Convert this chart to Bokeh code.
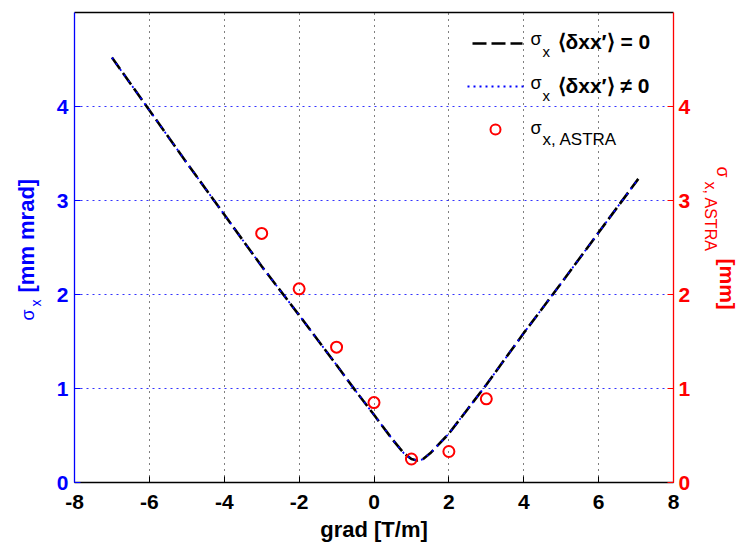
import math
from bokeh.plotting import figure
from bokeh.layouts import row
from bokeh.models import Range1d, LinearAxis, FixedTicker, Label
from bokeh.embed import file_html
from bokeh.resources import INLINE

# ---- data ----
grad = [-7.0, -6.0, -5.0, -4.0, -3.0, -2.0, -1.0, -0.5, 0.0, 0.5, 0.8, 1.0, 1.15,
        1.3, 1.5, 2.0, 2.5, 3.0, 4.0, 5.0, 6.0, 7.06]
sigma_corr_zero = [4.52, 3.96, 3.40, 2.85, 2.30, 1.78, 1.25, 0.98, 0.72, 0.455, 0.31,
                   0.25, 0.235, 0.245, 0.31, 0.52, 0.78, 1.04, 1.59, 2.12, 2.66, 3.23]
sigma_corr_nonzero = [4.52, 3.96, 3.40, 2.85, 2.30, 1.78, 1.25, 0.98, 0.72, 0.455, 0.31,
                      0.25, 0.235, 0.245, 0.31, 0.52, 0.78, 1.04, 1.59, 2.12, 2.66, 3.23]
astra_grad = [-3, -2, -1, 0, 1, 2, 3]
astra_sigma = [2.65, 2.06, 1.44, 0.85, 0.25, 0.33, 0.89]
x_ticks = [-8, -6, -4, -2, 0, 2, 4, 6, 8]
y_ticks = [0, 1, 2, 3, 4]

# ---- layout (pixels, whole page) ----
W, H = 738, 546
LSTRIP, RSTRIP = 46, 698          # left title strip [0,46], right title strip [698,738]
FL, FR, FT, FB = 74, 673, 12, 482 # plot frame
XMIN, XMAX, YMIN, YMAX = -8, 8, 0, 5

def dx(px):
    return XMIN + (px - FL) / (FR - FL) * (XMAX - XMIN)

def dy(py):
    return YMIN + (FB - py) / (FB - FT) * (YMAX - YMIN)

FONT = "Liberation Sans"
BLUE = "#0000ff"
RED = "#ff0000"

p = figure(width=RSTRIP - LSTRIP, height=H, x_range=Range1d(XMIN, XMAX),
           y_range=Range1d(YMIN, YMAX), output_backend="svg", toolbar_location=None,
           min_border_left=FL - LSTRIP, min_border_right=RSTRIP - FR,
           min_border_top=FT, min_border_bottom=H - FB)
p.extra_y_ranges = {"right": Range1d(YMIN, YMAX)}
p.outline_line_color = None
p.background_fill_color = "white"
p.border_fill_color = "white"

def style_axis(ax, color):
    ax.axis_line_color = color
    ax.axis_line_width = 1.3
    ax.major_tick_line_color = color
    ax.major_tick_in = 6
    ax.major_tick_out = 0
    ax.minor_tick_line_color = None
    ax.major_label_text_color = color
    ax.major_label_text_font = FONT
    ax.major_label_text_font_style = "bold"
    ax.major_label_text_font_size = "21px"

xa = p.xaxis[0]
xa.ticker = FixedTicker(ticks=x_ticks)
style_axis(xa, "black")
xa.major_label_overrides = {t: str(t) for t in x_ticks}
xa.major_label_standoff = 12
xa.axis_label = "grad [T/m]"
xa.axis_label_text_font = FONT
xa.axis_label_text_font_style = "bold"
xa.axis_label_text_font_size = "22px"
xa.axis_label_text_color = "black"
xa.axis_label_standoff = 5

ya = p.yaxis[0]
ya.ticker = FixedTicker(ticks=y_ticks)
style_axis(ya, BLUE)
ya.major_label_standoff = 6

ra = LinearAxis(y_range_name="right", ticker=FixedTicker(ticks=y_ticks))
style_axis(ra, RED)
ra.major_label_standoff = 5
p.add_layout(ra, "right")

ta = LinearAxis(ticker=FixedTicker(ticks=[]))
ta.axis_line_color = "black"
ta.axis_line_width = 1.3
ta.major_tick_line_color = None
ta.minor_tick_line_color = None
ta.major_label_text_font_size = "0px"
p.add_layout(ta, "above")

p.xgrid.ticker = FixedTicker(ticks=[-6, -4, -2, 0, 2, 4, 6])
p.xgrid.grid_line_color = "black"
p.xgrid.grid_line_dash = "1 5"
p.xgrid.grid_line_width = 1
p.ygrid.ticker = FixedTicker(ticks=[1, 2, 3, 4])
p.ygrid.grid_line_color = BLUE
p.ygrid.grid_line_alpha = 0.8
p.ygrid.grid_line_dash = "2 4"
p.ygrid.grid_line_width = 1

# ---- curves ----
p.line(grad, sigma_corr_zero, line_color="black", line_width=2.6, line_dash="14 5")
p.line(grad, sigma_corr_nonzero, line_color=BLUE, line_width=1.8, line_dash="2 5")
p.scatter(astra_grad, astra_sigma, marker="circle", size=11, fill_color=None,
          line_color=RED, line_width=2)

# ---- legend (hand-built) ----
p.line([dx(472), dx(522)], [dy(43), dy(43)], line_color="black", line_width=2.6,
       line_dash="14 5")
p.line([dx(467), dx(523)], [dy(86), dy(86)], line_color=BLUE, line_width=1.8,
       line_dash="2 4")
p.scatter([dx(495)], [dy(129)], marker="circle", size=10, fill_color=None,
          line_color=RED, line_width=2)

def lab(fig, text, x, y, size, color="black", bold=False, angle=0.0):
    fig.add_layout(Label(x=x, y=y, text=text, text_font=FONT,
                         text_font_size=size, text_color=color,
                         text_font_style="bold" if bold else "normal",
                         text_align="left", text_baseline="middle", angle=angle))

for cy, txt in ((40.5, "\u27e8\u03b4xx\u2032\u27e9 = 0"), (84.5, "\u27e8\u03b4xx\u2032\u27e9 \u2260 0")):
    lab(p, "\u03c3", dx(530), dy(cy - 2), "18px")
    lab(p, "x", dx(542), dy(cy + 10.5), "15px")
    lab(p, txt, dx(557), dy(cy), "21px", bold=True)
lab(p, "\u03c3", dx(530), dy(127.5), "18px")
lab(p, "x, ASTRA", dx(542), dy(139), "17px")

# ---- side strips holding the axis titles (page pixel coordinates) ----
# the row layout aligns the strips' frames with the main frame (FT..FB)
def strip(x0, x1):
    s = figure(width=x1 - x0, height=H, x_range=Range1d(x0, x1), y_range=Range1d(FB, FT),
               output_backend="svg", toolbar_location=None, x_axis_type=None,
               y_axis_type=None, min_border=0, min_border_left=0, min_border_right=0,
               min_border_top=FT, min_border_bottom=H - FB)
    s.outline_line_color = None
    s.grid.visible = False
    s.background_fill_color = "white"
    s.border_fill_color = "white"
    return s

pl = strip(0, LSTRIP)
lab(pl, "\u03c3", 27, 320, "18px", color=BLUE, angle=math.pi / 2)
lab(pl, "x", 35, 306, "14px", color=BLUE, angle=math.pi / 2)
lab(pl, "[mm mrad]", 26, 292, "22px", color=BLUE, bold=True, angle=math.pi / 2)

pr = strip(RSTRIP, W)
lab(pr, "\u03c3", 722, 166, "18px", color=RED, angle=-math.pi / 2)
lab(pr, "x, ASTRA", 710, 181, "16px", color=RED, angle=-math.pi / 2)
lab(pr, "[mm]", 727, 258, "21px", color=RED, bold=True, angle=-math.pi / 2)

layout = row(pl, p, pr, spacing=0)
open("out.html", "w").write(file_html(layout, INLINE))
